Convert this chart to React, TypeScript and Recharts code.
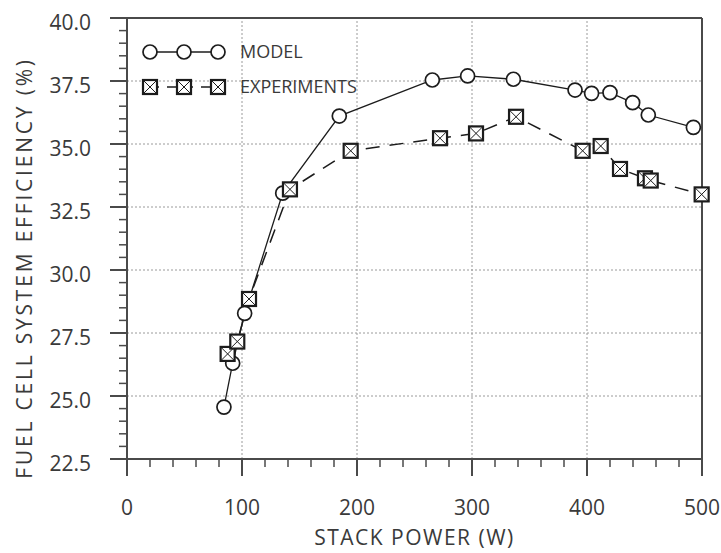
import React from "react";
import {
  LineChart,
  Line,
  XAxis,
  YAxis,
  ReferenceLine,
  Legend,
} from "recharts";

if (typeof document !== "undefined") {
  document.body.style.margin = "0";
}

const FONT = "'Open Sans', sans-serif";
const TEXT = "#3a3a3a";
const INK = "#1c1c1c";
const FRAME = "#4a4a4a";

// values
const MODEL_POWER = [84.3, 91.9, 102.3, 135.4, 184.6, 265.5, 296.2, 336.0, 389.6, 404.0, 420.0, 439.7, 453.3, 492.5];
const MODEL_EFF = [24.56, 26.3, 28.28, 33.05, 36.11, 37.54, 37.7, 37.57, 37.14, 37.01, 37.04, 36.64, 36.15, 35.66];
const EXP_POWER = [87.5, 95.9, 106.1, 141.7, 194.5, 272.2, 303.5, 338.3, 396.2, 411.9, 428.7, 450.4, 455.4, 499.7];
const EXP_EFF = [26.67, 27.16, 28.85, 33.2, 34.73, 35.23, 35.42, 36.08, 34.73, 34.92, 34.01, 33.64, 33.55, 33.0];

const SERIES_NAMES = ["MODEL", "EXPERIMENTS"];
const X_MAJOR = [0, 100, 200, 300, 400, 500];
const Y_MAJOR = [22.5, 25.0, 27.5, 30.0, 32.5, 35.0, 37.5, 40.0];
const X_TICKS = Array.from({ length: 26 }, (_, i) => i * 20);
const Y_TICKS = Array.from({ length: 36 }, (_, i) => 22.5 + i * 0.5);

const modelData = MODEL_POWER.map((p, i) => ({ power: p, eff: MODEL_EFF[i] }));
const expData = EXP_POWER.map((p, i) => ({ power: p, eff: EXP_EFF[i] }));

const isMajorY = (v: number) => Math.abs(v / 2.5 - Math.round(v / 2.5)) < 1e-6;

function XTick(props: any) {
  const { x, y, payload } = props;
  const major = payload.value % 100 === 0;
  return (
    <g>
      <line x1={x} x2={x} y1={y} y2={y + (major ? 17 : 8)} stroke={FRAME} strokeWidth={major ? 2 : 1.5} />
      {major && (
        <text x={x} y={y + 48} dy="0.36em" textAnchor="middle" fontFamily={FONT} fontSize={21} fill={TEXT}>
          {payload.value}
        </text>
      )}
    </g>
  );
}

function YTick(props: any) {
  const { x, y, payload } = props;
  const major = isMajorY(payload.value);
  return (
    <g>
      <line x1={x} x2={x - (major ? 17 : 8)} y1={y} y2={y} stroke={FRAME} strokeWidth={major ? 2 : 1.5} />
      {major && (
        <text x={x - 36} y={y + 4} dy="0.36em" textAnchor="end" fontFamily={FONT} fontSize={21} fill={TEXT}>
          {payload.value.toFixed(1)}
        </text>
      )}
    </g>
  );
}

function CircleDot(props: any) {
  const { cx, cy, index } = props;
  return <circle key={`m${index}`} cx={cx} cy={cy} r={7} fill="#fff" stroke={INK} strokeWidth={1.7} />;
}

function BoxDot(props: any) {
  const { cx, cy, index } = props;
  const h = 7;
  return (
    <g key={`e${index}`}>
      <rect x={cx - h} y={cy - h} width={2 * h} height={2 * h} fill="#fff" stroke={INK} strokeWidth={2.2} />
      <line x1={cx - h} y1={cy - h} x2={cx + h} y2={cy + h} stroke={INK} strokeWidth={1} />
      <line x1={cx - h} y1={cy + h} x2={cx + h} y2={cy - h} stroke={INK} strokeWidth={1} />
    </g>
  );
}

function LegendBox(props: any) {
  const items = [...(props.payload || [])].sort(
    (a: any, b: any) => SERIES_NAMES.indexOf(a.value) - SERIES_NAMES.indexOf(b.value)
  );
  return (
    <svg width={260} height={80}>
      {items.map((item: any, i: number) => {
        const y = 22 + i * 35;
        const isModel = item.value === "MODEL";
        const xs = [20, 54, 88];
        return (
          <g key={item.value}>
            <line
              x1={20}
              x2={88}
              y1={y}
              y2={y}
              stroke={INK}
              strokeWidth={1.4}
              strokeDasharray={isModel ? undefined : "9 8"}
            />
            {xs.map((cx, j) =>
              isModel ? (
                <CircleDot key={j} cx={cx} cy={y} index={j} />
              ) : (
                <BoxDot key={j} cx={cx} cy={y} index={j} />
              )
            )}
            <text x={110} y={y} dy="0.36em" fontFamily={FONT} fontSize={18} fill={TEXT}>
              {item.value}
            </text>
          </g>
        );
      })}
    </svg>
  );
}

export default function App() {
  return (
    <div style={{ width: 721, height: 553, background: "#fff" }}>
      <LineChart width={721} height={553} margin={{ top: 18, right: 19, bottom: 0, left: 0 }}>
        <XAxis
          type="number"
          dataKey="power"
          domain={[0, 500]}
          ticks={X_TICKS}
          interval={0}
          height={94}
          tickSize={0}
          tickMargin={0}
          tickLine={false}
          axisLine={{ stroke: FRAME, strokeWidth: 2 }}
          tick={<XTick />}
          label={({ viewBox }: any) => (
            <text
              x={viewBox.x + viewBox.width / 2}
              y={viewBox.y + 86}
              textAnchor="middle"
              fontFamily={FONT}
              fontSize={21}
              letterSpacing={1.5}
              fill={TEXT}
            >
              STACK POWER (W)
            </text>
          )}
        />
        <YAxis
          type="number"
          dataKey="eff"
          domain={[22.5, 40]}
          ticks={Y_TICKS}
          interval={0}
          width={127}
          tickSize={0}
          tickMargin={0}
          tickLine={false}
          axisLine={{ stroke: FRAME, strokeWidth: 2 }}
          tick={<YTick />}
          label={() => (
            <text
              transform="translate(32, 268) rotate(-90)"
              textAnchor="middle"
              fontFamily={FONT}
              fontSize={21}
              letterSpacing={2.8}
              fill={TEXT}
            >
              FUEL CELL SYSTEM EFFICIENCY (%)
            </text>
          )}
        />
        {Y_MAJOR.slice(1, -1).map((v) => (
          <ReferenceLine
            key={`gy${v}`}
            y={v}
            ifOverflow="visible"
            stroke="#9a9a9a"
            strokeDasharray="2 2"
            strokeWidth={1}
          />
        ))}
        {X_MAJOR.slice(1, -1).map((v) => (
          <ReferenceLine
            key={`gx${v}`}
            x={v}
            ifOverflow="visible"
            stroke="#9a9a9a"
            strokeDasharray="2 2"
            strokeWidth={1}
          />
        ))}
        <ReferenceLine y={40} ifOverflow="visible" stroke={FRAME} strokeWidth={2} />
        <ReferenceLine x={500} ifOverflow="visible" stroke={FRAME} strokeWidth={2} />
        <Legend
          layout="vertical"
          align="center"
          verticalAlign="middle"
          content={<LegendBox />}
          wrapperStyle={{ top: 30, left: 130, width: 260, height: 80 }}
        />
        <Line
          name="MODEL"
          data={modelData}
          dataKey="eff"
          stroke={INK}
          strokeWidth={1.3}
          dot={CircleDot}
          activeDot={false}
          isAnimationActive={false}
        />
        <Line
          name="EXPERIMENTS"
          data={expData}
          dataKey="eff"
          stroke={INK}
          strokeWidth={1.5}
          strokeDasharray="14 10"
          dot={BoxDot}
          activeDot={false}
          isAnimationActive={false}
        />
      </LineChart>
    </div>
  );
}
